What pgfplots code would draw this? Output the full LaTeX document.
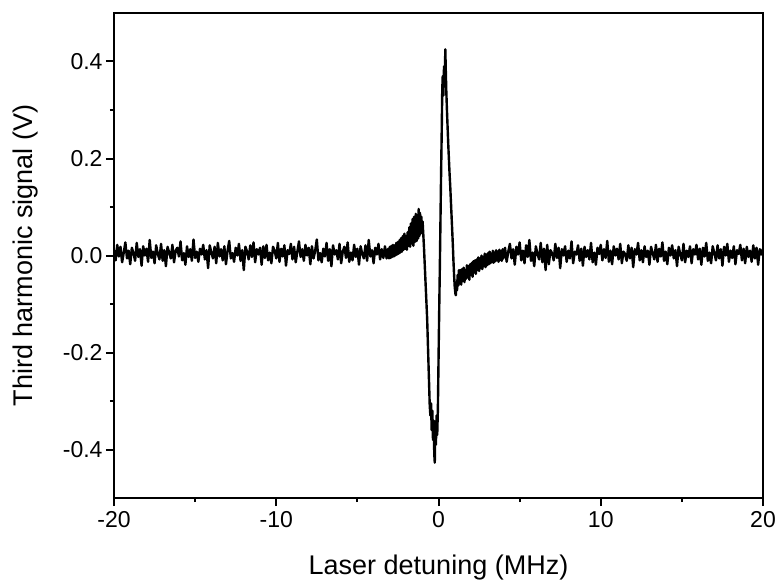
\documentclass[border=0pt]{standalone}
\usepackage{fontspec}
\setmainfont{Liberation Sans}
\usepackage{pgfplots}
\pgfplotsset{compat=1.18}
\usepackage{pgfplotstable}
\pgfplotstableread{
x y
-20.0 0.011
-19.9 -0.010
-19.8 0.022
-19.7 -0.002
-19.6 0.018
-19.5 -0.014
-19.4 0.006
-19.3 0.027
-19.2 -0.006
-19.1 0.010
-19.0 -0.018
-18.9 0.016
-18.8 0.005
-18.7 -0.011
-18.6 0.026
-18.5 -0.003
-18.4 0.013
-18.3 -0.021
-18.2 0.019
-18.1 0.000
-18.0 0.014
-17.9 -0.013
-17.8 0.032
-17.7 -0.005
-17.6 0.008
-17.5 -0.016
-17.4 0.021
-17.3 0.003
-17.2 -0.008
-17.1 0.024
-17.0 -0.011
-16.9 0.011
-16.8 -0.022
-16.7 0.018
-16.6 0.006
-16.5 -0.006
-16.4 0.022
-16.3 -0.014
-16.2 0.010
-16.1 0.016
-16.0 -0.002
-15.9 0.029
-15.8 -0.010
-15.7 0.005
-15.6 -0.019
-15.5 0.019
-15.4 -0.003
-15.3 0.013
-15.2 -0.011
-15.1 0.033
-15.0 -0.005
-14.9 0.008
-14.8 -0.013
-14.7 0.014
-14.6 0.002
-14.5 0.022
-14.4 -0.008
-14.3 0.011
-14.2 -0.026
-14.1 0.021
-14.0 0.006
-13.9 -0.006
-13.8 0.018
-13.7 -0.016
-13.6 0.026
-13.5 -0.002
-13.4 0.013
-13.3 -0.010
-13.2 0.019
-13.1 -0.018
-13.0 0.010
-12.9 0.030
-12.8 -0.006
-12.7 0.005
-12.6 -0.013
-12.5 0.016
-12.4 0.000
-12.3 0.024
-12.2 -0.011
-12.1 0.011
-12.0 -0.030
-11.9 0.018
-11.8 0.008
-11.7 -0.008
-11.6 0.021
-11.5 -0.003
-11.4 0.027
-11.3 -0.014
-11.2 0.013
-11.1 0.002
-11.0 0.016
-10.9 -0.019
-10.8 0.019
-10.7 -0.005
-10.6 0.022
-10.5 -0.010
-10.4 0.006
-10.3 -0.016
-10.2 0.018
-10.1 0.010
-10.0 -0.006
-9.9 0.026
-9.8 -0.013
-9.7 0.014
-9.6 -0.002
-9.5 0.021
-9.4 -0.021
-9.3 0.011
-9.2 0.003
-9.1 0.024
-9.0 -0.008
-8.9 0.018
-8.8 -0.014
-8.7 0.008
-8.6 0.029
-8.5 -0.003
-8.4 0.013
-8.3 -0.011
-8.2 0.022
-8.1 0.000
-8.0 0.016
-7.9 -0.018
-7.8 0.019
-7.7 -0.006
-7.6 0.010
-7.5 0.033
-7.4 -0.010
-7.3 0.005
-7.2 -0.014
-7.1 0.014
-7.0 -0.002
-6.9 0.026
-6.8 -0.011
-6.7 0.013
-6.6 -0.022
-6.5 0.021
-6.4 0.002
-6.3 0.011
-6.2 -0.008
-6.1 0.024
-6.0 -0.016
-5.9 0.008
-5.8 0.018
-5.7 -0.005
-5.6 0.027
-5.5 -0.013
-5.4 0.006
-5.3 -0.010
-5.2 0.022
-5.1 -0.003
-5.0 0.014
-4.9 -0.019
-4.8 0.019
-4.7 0.003
-4.6 -0.006
-4.5 0.021
-4.4 -0.011
-4.3 0.032
-4.2 -0.002
-4.1 0.011
-4.0 -0.016
-3.9 0.016
-3.8 0.002
-3.7 0.024
-3.6 -0.008
-3.5 0.013
-3.4 -0.005
-3.3 0.019
-3.2 -0.006
-3.1 0.014
-3.05 -0.006
-3.00 0.018
-2.95 -0.005
-2.90 0.020
-2.85 -0.003
-2.80 0.022
-2.75 -0.002
-2.70 0.021
-2.65 0.000
-2.60 0.026
-2.55 0.002
-2.50 0.028
-2.45 0.004
-2.40 0.032
-2.35 0.006
-2.30 0.036
-2.25 0.008
-2.20 0.040
-2.15 0.012
-2.10 0.045
-2.05 0.014
-2.00 0.040
-1.95 0.012
-1.90 0.048
-1.85 0.020
-1.80 0.058
-1.75 0.018
-1.70 0.066
-1.65 0.025
-1.60 0.075
-1.55 0.020
-1.50 0.080
-1.45 0.028
-1.40 0.086
-1.35 0.030
-1.30 0.082
-1.25 0.035
-1.22 0.096
-1.18 0.040
-1.14 0.088
-1.10 0.045
-1.06 0.080
-1.02 0.050
-0.98 0.070
-0.94 0.045
-0.90 0.020
-0.86 -0.010
-0.82 -0.040
-0.78 -0.070
-0.74 -0.100
-0.70 -0.130
-0.66 -0.175
-0.62 -0.220
-0.58 -0.265
-0.54 -0.310
-0.50 -0.330
-0.46 -0.305
-0.42 -0.360
-0.38 -0.320
-0.34 -0.380
-0.30 -0.340
-0.26 -0.410
-0.23 -0.427
-0.20 -0.350
-0.16 -0.390
-0.12 -0.330
-0.08 -0.370
-0.04 -0.320
0.00 -0.220
0.04 -0.120
0.08 -0.030
0.12 0.070
0.16 0.170
0.20 0.260
0.23 0.340
0.26 0.370
0.30 0.330
0.34 0.390
0.38 0.350
0.42 0.425
0.45 0.380
0.48 0.340
0.52 0.300
0.56 0.265
0.60 0.230
0.64 0.200
0.68 0.170
0.72 0.145
0.76 0.115
0.80 0.085
0.84 0.055
0.88 0.025
0.92 -0.010
0.96 -0.040
1.00 -0.065
1.04 -0.078
1.07 -0.082
1.10 -0.055
1.14 -0.072
1.18 -0.040
1.22 -0.062
1.26 -0.030
1.30 -0.058
1.35 -0.030
1.40 -0.060
1.45 -0.028
1.50 -0.052
1.55 -0.025
1.60 -0.055
1.65 -0.030
1.70 -0.048
1.75 -0.020
1.80 -0.045
1.85 -0.022
1.90 -0.050
1.95 -0.018
2.00 -0.040
2.05 -0.015
2.10 -0.044
2.15 -0.012
2.20 -0.035
2.25 -0.010
2.30 -0.038
2.35 -0.008
2.40 -0.030
2.45 -0.004
2.50 -0.032
2.55 -0.006
2.60 -0.026
2.65 0.000
2.70 -0.028
2.75 -0.003
2.80 -0.022
2.85 0.004
2.90 -0.024
2.95 0.002
3.00 -0.020
3.05 0.005
3.10 -0.018
3.15 0.008
3.20 -0.016
3.25 0.004
3.30 -0.014
3.35 0.010
3.40 -0.015
3.45 0.006
3.50 -0.012
3.55 0.011
3.60 -0.010
3.65 0.008
3.70 -0.013
3.75 0.012
3.80 -0.009
3.85 0.009
3.90 -0.011
3.95 0.013
4.00 -0.006
4.1 0.016
4.2 -0.013
4.3 0.008
4.4 0.024
4.5 -0.006
4.6 0.013
4.7 -0.019
4.8 0.018
4.9 0.002
5.0 0.027
5.1 -0.010
5.2 0.010
5.3 -0.016
5.4 0.021
5.5 -0.003
5.6 0.032
5.7 -0.011
5.8 0.006
5.9 -0.022
6.0 0.019
6.1 0.003
6.2 -0.008
6.3 0.026
6.4 -0.014
6.5 0.014
6.6 -0.030
6.7 0.022
6.8 -0.018
6.9 0.011
7.0 0.005
7.1 -0.010
7.2 0.024
7.3 -0.005
7.4 0.016
7.5 -0.026
7.6 0.013
7.7 0.000
7.8 0.019
7.9 -0.013
8.0 0.010
8.1 -0.006
8.2 0.029
8.3 -0.016
8.4 0.008
8.5 0.002
8.6 0.021
8.7 -0.011
8.8 0.014
8.9 -0.021
9.0 0.018
9.1 -0.003
9.2 0.011
9.3 -0.008
9.4 0.026
9.5 -0.014
9.6 0.006
9.7 -0.019
9.8 0.016
9.9 0.003
10.0 0.022
10.1 -0.010
10.2 0.013
10.3 -0.005
10.4 0.030
10.5 -0.013
10.6 0.010
10.7 -0.018
10.8 0.019
10.9 0.000
11.0 0.014
11.1 -0.008
11.2 0.024
11.3 -0.016
11.4 0.008
11.5 0.003
11.6 -0.011
11.7 0.021
11.8 -0.006
11.9 0.016
12.0 -0.024
12.1 0.013
12.2 0.002
12.3 0.026
12.4 -0.010
12.5 0.011
12.6 -0.014
12.7 0.019
12.8 -0.003
12.9 0.010
13.0 -0.019
13.1 0.018
13.2 0.005
13.3 -0.008
13.4 0.022
13.5 -0.013
13.6 0.014
13.7 -0.002
13.8 0.027
13.9 -0.011
14.0 0.008
14.1 -0.018
14.2 0.016
14.3 0.000
14.4 0.021
14.5 -0.006
14.6 0.011
14.7 -0.022
14.8 0.018
14.9 0.003
15.0 -0.010
15.1 0.024
15.2 -0.014
15.3 0.010
15.4 -0.003
15.5 0.019
15.6 -0.016
15.7 0.013
15.8 0.002
15.9 0.022
16.0 -0.008
16.1 0.014
16.2 -0.019
16.3 0.016
16.4 -0.002
16.5 0.026
16.6 -0.011
16.7 0.006
16.8 -0.016
16.9 0.019
17.0 0.005
17.1 -0.010
17.2 0.021
17.3 -0.006
17.4 0.013
17.5 -0.021
17.6 0.018
17.7 0.000
17.8 0.024
17.9 -0.013
18.0 0.010
18.1 -0.005
18.2 0.019
18.3 -0.018
18.4 0.011
18.5 0.003
18.6 0.022
18.7 -0.010
18.8 0.014
18.9 -0.016
19.0 0.018
19.1 -0.003
19.2 0.010
19.3 -0.013
19.4 0.021
19.5 -0.006
19.6 0.016
19.7 -0.019
19.8 0.013
19.9 0.002
20.0 0.014
}\sig
\begin{document}
\begin{tikzpicture}
\begin{axis}[name=ax, scale only axis, width=649bp, height=485bp,
  xmin=-20, xmax=20, ymin=-0.5, ymax=0.5,
  xtick={-20,-10,0,10,20}, minor xtick={-15,-5,5,15},
  ytick={-0.4,-0.2,0,0.2,0.4}, minor ytick={-0.3,-0.1,0.1,0.3},
  tick pos=left, tick align=outside,
  major tick length=8bp, minor tick length=4bp,
  axis line style={line width=2bp},
  every tick/.append style={line width=2bp, black},
  /pgf/number format/assume math mode=true,
  yticklabel style={/pgf/number format/.cd, fixed, fixed zerofill, precision=1},
  xticklabel style={yshift=-2bp},
  tick label style={font=\fontsize{23bp}{27bp}\selectfont, text=black},
  label style={font=\fontsize{27bp}{31bp}\selectfont},
  xlabel={Laser detuning (MHz)}, ylabel={Third harmonic signal (V)},
  xlabel style={at={(axis description cs:0.5,-0.1567)}, anchor=base},
  ylabel style={at={(axis description cs:-0.1263,0.5)}, anchor=base},
]
\addplot[black, line width=2.4bp, line join=round] table[x=x, y=y] {\sig};
\end{axis}
\pgfresetboundingbox
\path[use as bounding box] ([shift={(-114bp,-83bp)}]ax.south west) rectangle ([shift={(14bp,13bp)}]ax.north east);
\end{tikzpicture}
\end{document}
